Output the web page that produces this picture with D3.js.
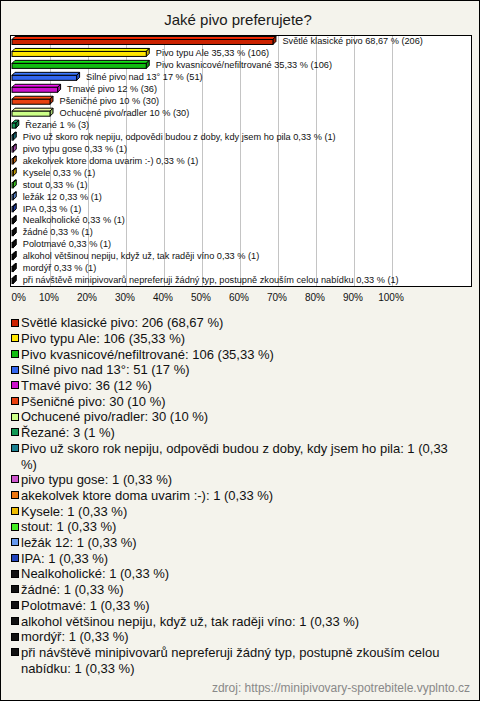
<!DOCTYPE html>
<html><head><meta charset="utf-8">
<script src="https://cdn.jsdelivr.net/npm/d3@7"></script>
<style>html,body{margin:0;padding:0;background:#f4f3ec;} svg{display:block;}</style>
</head><body>
<svg id="chart" width="480" height="701"></svg>
<script>
const title = "Jaké pivo preferujete?";
const source = "zdroj: https://minipivovary-spotrebitele.vyplnto.cz";
const categories = [
  "Světlé klasické pivo",
  "Pivo typu Ale",
  "Pivo kvasnicové/nefiltrované",
  "Silné pivo nad 13°",
  "Tmavé pivo",
  "Pšeničné pivo",
  "Ochucené pivo/radler",
  "Řezané",
  "Pivo už skoro rok nepiju, odpovědi budou z doby, kdy jsem ho pila",
  "pivo typu gose",
  "akekolvek ktore doma uvarim :-)",
  "Kysele",
  "stout",
  "ležák 12",
  "IPA",
  "Nealkoholické",
  "žádné",
  "Polotmavé",
  "alkohol většinou nepiju, když už, tak raději víno",
  "mordýř",
  "při návštěvě minipivovarů nepreferuji žádný typ, postupně zkouším celou nabídku"
];
const counts = [206, 106, 106, 51, 36, 30, 30, 3, 1, 1, 1, 1, 1, 1, 1, 1, 1, 1, 1, 1, 1];
const percents = [68.67, 35.33, 35.33, 17, 12, 10, 10, 1, 0.33, 0.33, 0.33, 0.33, 0.33, 0.33, 0.33, 0.33, 0.33, 0.33, 0.33, 0.33, 0.33];
const colors = ["#cc2200", "#ffe600", "#11bb11", "#3366ee", "#cc11cc", "#e84010", "#ccff88", "#119955",
  "#1a7f8f", "#cc55cc", "#ee7711", "#eebb00", "#44ee22", "#6699ee", "#2244bb",
  "#111111", "#111111", "#111111", "#111111", "#111111", "#111111"];
const ticks = [0, 10, 20, 30, 40, 50, 60, 70, 80, 90, 100];

const font = "'Liberation Sans', Arial, Helvetica, sans-serif";
const fmt = p => String(p).replace(".", ",");
const data = categories.map((c, i) => ({cat: c, count: counts[i], pct: percents[i], color: colors[i]}));

const svg = d3.select("#chart").attr("font-family", font);
svg.append("rect").attr("x", 0.5).attr("y", 0.5).attr("width", 479).attr("height", 700)
  .attr("fill", "#f4f3ec").attr("stroke", "#000");

svg.append("text").attr("x", 238).attr("y", 24.5).attr("text-anchor", "middle")
  .attr("font-size", 15).attr("fill", "#1a1a1a").text(title);

const x = d3.scaleLinear().domain([0, 100]).range([12, 392]);
const y = d3.scaleBand().domain(categories).range([35, 286]);

// plot frame
svg.append("rect").attr("x", 10.5).attr("y", 35.5).attr("width", 461).attr("height", 251)
  .attr("fill", "#fff").attr("stroke", "#000");

// gridlines
svg.append("g").selectAll("line").data(ticks.slice(1)).join("line")
  .attr("x1", d => Math.round(x(d)) + 0.5).attr("x2", d => Math.round(x(d)) + 0.5)
  .attr("y1", 36).attr("y2", 286).attr("stroke", "#c4c4c4").attr("stroke-width", 1);

// 3D bars
const depth = 3, fh = 5;
const bars = svg.append("g").selectAll("g").data(data).join("g");
bars.each(function(d) {
  const g = d3.select(this);
  const c = y(d.cat) + y.bandwidth() / 2;
  const x0 = x(0), x1 = x(d.pct);
  const top = c - 1.5, bot = top + fh;
  const col = d3.color(d.color);
  g.append("path")
    .attr("d", `M${x0},${top}L${x0 + depth},${top - depth}L${x1 + depth},${top - depth}L${x1},${top}Z`)
    .attr("fill", col.brighter(0.5)).attr("stroke", "#000").attr("stroke-width", 1).attr("stroke-linejoin", "round");
  g.append("path")
    .attr("d", `M${x1},${top}L${x1 + depth},${top - depth}L${x1 + depth},${bot - depth}L${x1},${bot}Z`)
    .attr("fill", col.darker(0.6)).attr("stroke", "#000").attr("stroke-width", 1).attr("stroke-linejoin", "round");
  g.append("rect").attr("x", x0).attr("y", top).attr("width", Math.max(0.5, x1 - x0)).attr("height", fh)
    .attr("fill", d.color).attr("stroke", "#000").attr("stroke-width", 1);
  g.append("text").attr("x", x1 + 9.5).attr("y", c + 3.2)
    .attr("font-size", 9.2).attr("fill", "#111")
    .text(`${d.cat} ${fmt(d.pct)} % (${d.count})`);
});

// axis
const axis = svg.append("g").attr("transform", "translate(0,293)")
  .call(d3.axisBottom(x).tickValues(ticks).tickFormat(d => d + "%").tickSize(0).tickPadding(1));
axis.select(".domain").remove();
axis.selectAll("text").attr("font-size", 10).attr("font-family", font).attr("fill", "#111")
  .attr("dx", -1.5);
axis.selectAll(".tick").filter(d => d === 0).select("text")
  .attr("text-anchor", "start").attr("x", -1).attr("dx", 0);

// legend
function wrap(str, maxW, size) {
  const words = str.split(" ");
  const t = svg.append("text").attr("font-size", size).attr("font-family", font);
  const lines = [];
  let cur = "";
  for (const w of words) {
    const test = cur ? cur + " " + w : w;
    t.text(test);
    if (t.node().getComputedTextLength() > maxW && cur) { lines.push(cur); cur = w; }
    else cur = test;
  }
  lines.push(cur);
  t.remove();
  return lines;
}
const lg = svg.append("g");
const lh = 15.7;
let cy = 322.5;
data.forEach(d => {
  const lines = wrap(`${d.cat}: ${d.count} (${fmt(d.pct)} %)`, 445, 13);
  lg.append("rect").attr("x", 11.5).attr("y", Math.round(cy - 4) + 0.5).attr("width", 7).attr("height", 7)
    .attr("fill", d.color).attr("stroke", "#000");
  const t = lg.append("text").attr("font-size", 13).attr("fill", "#111");
  lines.forEach((ln, k) => {
    t.append("tspan").attr("x", 21).attr("y", cy + 4.7 + k * lh).text(ln);
  });
  cy += lines.length * lh;
});

svg.append("text").attr("x", 470).attr("y", 692).attr("text-anchor", "end")
  .attr("font-size", 12).attr("fill", "#888").text(source);
</script>
</body></html>
